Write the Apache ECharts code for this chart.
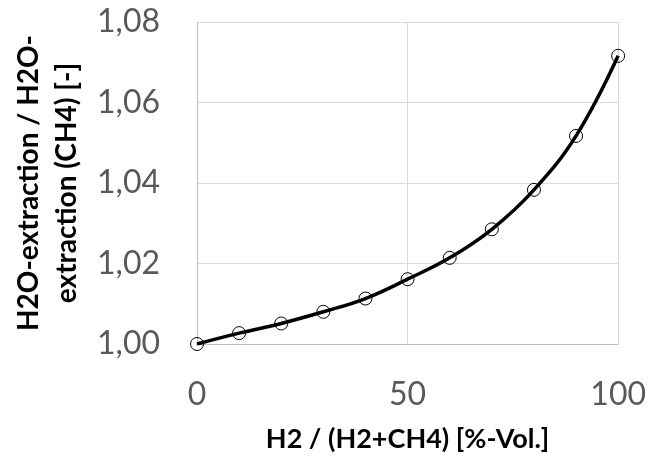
<!DOCTYPE html>
<html>
<head>
<meta charset="utf-8">
<script src="https://cdn.jsdelivr.net/npm/echarts@6/dist/echarts.min.js"></script>
<style>
html,body{margin:0;padding:0;background:#fff;}
#chart{width:649px;height:458px;}
</style>
</head>
<body>
<div id="chart"></div>
<script>
const xValues = [0, 10, 20, 30, 40, 50, 60, 70, 80, 90, 100];
const yValues = [1.000, 1.0027, 1.0051, 1.0080, 1.0113, 1.0161, 1.0214, 1.0285, 1.0383, 1.0517, 1.0716];
const xTitle = 'H2 / (H2+CH4) [%-Vol.]';
const yTitle = 'H2O-extraction / H2O-\nextraction (CH4) [-]';

const chart = echarts.init(document.getElementById('chart'), null, {renderer: 'canvas'});
const data = xValues.map((x, i) => [x, yValues[i]]);
const font = 'Lato, "Open Sans", sans-serif';
chart.setOption({
  animation: false,
  backgroundColor: '#ffffff',
  grid: {left: 197, right: 30, top: 22, bottom: 114},
  xAxis: {
    type: 'value', min: 0, max: 100, interval: 50,
    name: xTitle, nameLocation: 'middle', nameGap: 82,
    nameTextStyle: {fontFamily: font, fontWeight: 'bold', fontSize: 27, color: '#000'},
    axisLine: {show: true, lineStyle: {color: '#bfbfbf', width: 1}},
    axisTick: {show: false},
    axisLabel: {fontFamily: font, fontSize: 32, color: '#595959', margin: 35},
    splitLine: {show: true, lineStyle: {color: '#d9d9d9', width: 1}}
  },
  yAxis: {
    type: 'value', min: 1.00, max: 1.08, interval: 0.02,
    name: yTitle, nameLocation: 'middle', nameGap: 110,
    nameTextStyle: {fontFamily: font, fontWeight: 'bold', fontSize: 28, color: '#000', lineHeight: 38, align: 'center'},
    axisLine: {show: true, lineStyle: {color: '#bfbfbf', width: 1}},
    axisTick: {show: false},
    axisLabel: {fontFamily: font, fontSize: 32, color: '#595959', margin: 37,
      formatter: v => v.toFixed(2).replace('.', ',')},
    splitLine: {show: true, lineStyle: {color: '#d9d9d9', width: 1}}
  },
  series: [{
    type: 'line',
    data: data,
    smooth: 0.4,
    symbol: 'circle',
    symbolSize: 13,
    showAllSymbol: true,
    lineStyle: {color: '#000', width: 3.5},
    itemStyle: {color: 'rgba(255,255,255,0)', borderColor: '#000', borderWidth: 1}
  }]
});
</script>
</body>
</html>
